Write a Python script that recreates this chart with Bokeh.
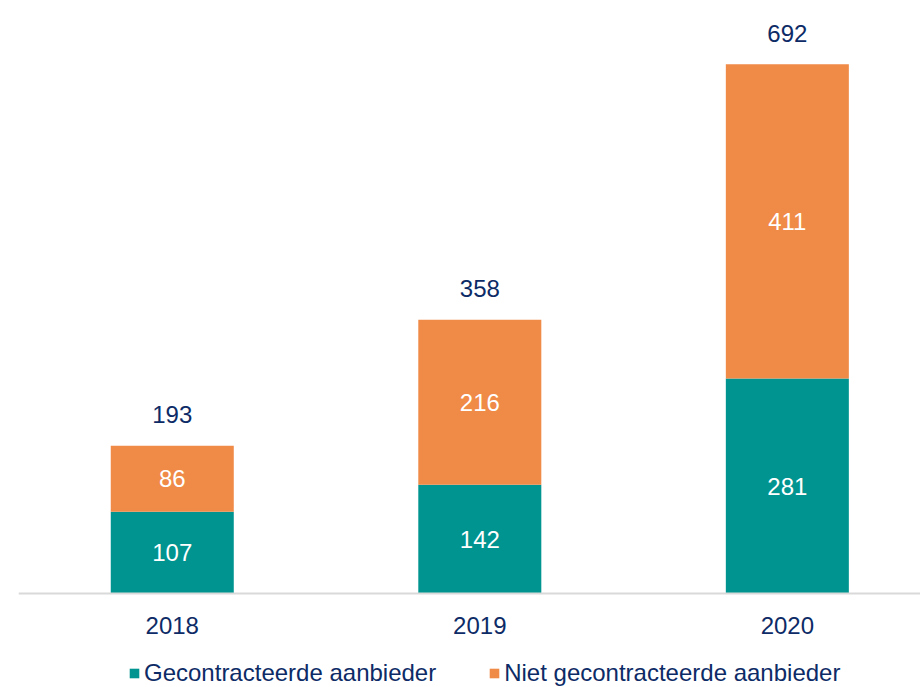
from bokeh.plotting import figure
from bokeh.models import ColumnDataSource, Range1d, Legend, LegendItem, Span
from bokeh.core.properties import value
from bokeh.embed import file_html
from bokeh.resources import INLINE

years = ["2018", "2019", "2020"]
gecontracteerd = [107, 142, 281]
niet_gecontracteerd = [86, 216, 411]
totals = [193, 358, 692]

TEAL = "#009490"
ORANGE = "#F08A47"
NAVY = "#0D2B66"
FONT = "Liberation Sans"
FS = "24px"

xs = list(range(len(years)))
src = ColumnDataSource(dict(
    x=xs,
    g=gecontracteerd,
    n=niet_gecontracteerd,
    g_mid=[v / 2 for v in gecontracteerd],
    n_mid=[g + n / 2 for g, n in zip(gecontracteerd, niet_gecontracteerd)],
    tot=totals,
    base=[0] * len(years),
    g_lbl=[str(v) for v in gecontracteerd],
    n_lbl=[str(v) for v in niet_gecontracteerd],
    t_lbl=[str(v) for v in totals],
    year=years,
))

p = figure(width=920, height=687, output_backend="svg", toolbar_location=None,
           x_range=Range1d(-0.5, 2.433), y_range=Range1d(-123, 765),
           x_axis_location=None, y_axis_location=None,
           min_border_left=18, min_border_right=0, min_border_top=8, min_border_bottom=0)

rs = p.vbar_stack(["g", "n"], x="x", width=0.4, source=src, color=[TEAL, ORANGE], line_width=0)

p.add_layout(Span(location=0, dimension="width", line_color="#D9D9D9", line_width=2))

common = dict(source=src, text_font=value(FONT), text_font_size=FS,
              text_align="center", text_baseline="middle")
p.text(x="x", y="g_mid", text="g_lbl", text_color="white", **common)
p.text(x="x", y="n_mid", text="n_lbl", text_color="white", **common)
p.text(x="x", y="tot", text="t_lbl", text_color=NAVY, y_offset=-31, **common)
p.text(x="x", y="base", text="year", text_color=NAVY, y_offset=32, **common)

p.grid.visible = False
p.outline_line_color = None

legend = Legend(items=[LegendItem(label="Gecontracteerde aanbieder", renderers=[rs[0]]),
                       LegendItem(label="Niet gecontracteerde aanbieder", renderers=[rs[1]])],
                orientation="horizontal", location=(110, 0),
                glyph_width=12, glyph_height=12, label_standoff=4, spacing=52,
                padding=0, margin=0, border_line_alpha=0, background_fill_alpha=0,
                label_text_font=FONT, label_text_font_size=FS, label_text_color=NAVY,
                label_height=24)
p.add_layout(legend, "center")

open("out.html", "w").write(file_html(p, INLINE))
